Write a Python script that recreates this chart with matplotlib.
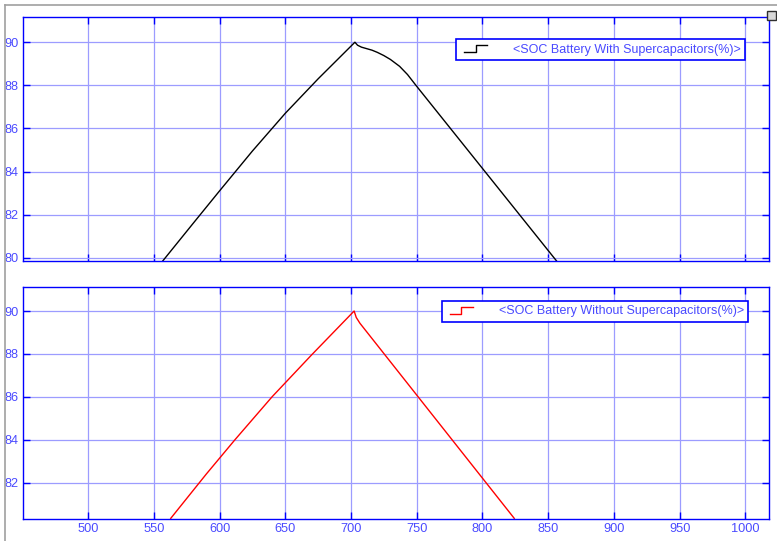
import numpy as np
import matplotlib.pyplot as plt
from matplotlib.lines import Line2D
from matplotlib.patches import Rectangle
from matplotlib.legend_handler import HandlerBase

# SOC de la batería con supercapacitores (tiempo, %)
t_with = [556.8, 580.0, 600.0, 625.0, 650.0, 675.0, 703.0, 705.0, 708.0,
          712.0, 716.0, 720.0, 725.0, 730.0, 737.0, 743.0, 749.4, 856.4]
soc_with = [79.85, 81.6, 83.1, 84.95, 86.7, 88.3, 90.0, 89.86, 89.77,
            89.7, 89.63, 89.53, 89.38, 89.2, 88.88, 88.5, 88.0, 79.85]

# SOC de la batería sin supercapacitores
t_without = [562.9, 590.0, 611.8, 640.0, 670.0, 702.4, 704.0, 706.8, 824.2]
soc_without = [80.33, 82.4, 84.0, 86.0, 87.95, 90.0, 89.7, 89.43, 80.33]

label_with = "<SOC Battery With Supercapacitors(%)>"
label_without = "<SOC Battery Without Supercapacitors(%)>"

x_ticks = np.arange(500, 1001, 50)
y_ticks_top = np.arange(80, 91, 2)
y_ticks_bottom = np.arange(82, 91, 2)

BLUE = '#0000ff'
TICK_BLUE = '#4a4aff'
GRID_BLUE = '#9c9cff'

plt.rcParams['font.family'] = ['Liberation Sans', 'DejaVu Sans']


# Símbolo de escalón para la leyenda (estilo scope)
class StepHandler(HandlerBase):
    def create_artists(self, legend, orig_handle, xdescent, ydescent,
                       width, height, fontsize, trans):
        w = 0.52 * width
        x0 = -xdescent + 0.08 * width
        y0 = -ydescent + 0.05 * height
        y1 = -ydescent + 0.85 * height
        xs = [x0, x0 + w / 2, x0 + w / 2, x0 + w]
        ys = [y0, y0, y1, y1]
        line = Line2D(xs, ys, color=orig_handle.get_color(), lw=1.0,
                      transform=trans)
        return [line]


def style_axes(ax, yticks, ylim):
    ax.set_xlim(450.5, 1018)
    ax.set_ylim(*ylim)
    ax.set_xticks(x_ticks)
    ax.set_yticks(yticks)
    ax.grid(True, color=GRID_BLUE, lw=0.9)
    ax.set_axisbelow(True)
    for s in ax.spines.values():
        s.set_color(BLUE)
        s.set_linewidth(1.0)
    ax.tick_params(direction='in', length=5, width=1.0, color=BLUE,
                   labelcolor=TICK_BLUE, labelsize=9.2, top=True, right=True,
                   pad=3)


fig = plt.figure(figsize=(7.77, 5.41), dpi=100)
ax1 = fig.add_axes([0.0296, 0.5176, 0.9601, 0.4510])
ax2 = fig.add_axes([0.0296, 0.0407, 0.9601, 0.4288])

l1, = ax1.plot(t_with, soc_with, color='black', lw=1.0)
style_axes(ax1, y_ticks_top, (79.85, 91.17))
ax1.tick_params(labelbottom=False)

l2, = ax2.plot(t_without, soc_without, color='red', lw=1.0)
style_axes(ax2, y_ticks_bottom, (80.3, 91.12))

leg_kw = dict(loc='upper right', borderaxespad=0, fancybox=False,
              framealpha=1, fontsize=9, handlelength=3.6, handletextpad=0.6,
              borderpad=0.35, handler_map={Line2D: StepHandler()})
leg1 = ax1.legend([l1], [label_with], bbox_to_anchor=(0.968, 0.909), **leg_kw)
leg2 = ax2.legend([l2], [label_without], bbox_to_anchor=(0.972, 0.94), **leg_kw)
for leg in (leg1, leg2):
    leg.get_frame().set_edgecolor(BLUE)
    leg.get_frame().set_linewidth(1.2)
    for txt in leg.get_texts():
        txt.set_color(TICK_BLUE)

# Marco gris de la ventana y botón de la esquina
fig.add_artist(Line2D([5 / 777, 1], [1 - 5 / 541, 1 - 5 / 541],
                      color='#a0a0a0', lw=1.2))
fig.add_artist(Line2D([4.7 / 777, 4.7 / 777], [0, 1 - 5 / 541],
                      color='#a0a0a0', lw=1.2))
fig.add_artist(Rectangle((767 / 777, 1 - 20 / 541), 9 / 777, 9 / 541,
                         facecolor='#d8d8d8', edgecolor='#303030', lw=1.0))

plt.savefig("out.png", dpi=100)
